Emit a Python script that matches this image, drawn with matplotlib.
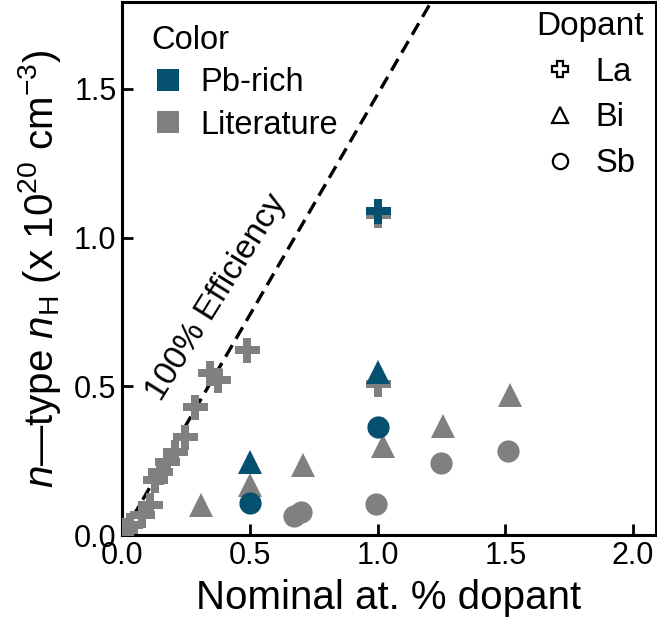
import matplotlib
matplotlib.use("Agg")
import numpy as np
from matplotlib import pyplot as plt
from matplotlib.lines import Line2D

plt.rcParams['font.family'] = ['Liberation Sans', 'DejaVu Sans']
plt.rcParams['mathtext.fontset'] = 'custom'
plt.rcParams['mathtext.rm'] = 'Liberation Sans'
plt.rcParams['mathtext.it'] = 'Liberation Sans:italic'

# colours
pb_rich_color = '#05506e'
lit_color = '#808080'

# literature data (nominal at.% dopant, n_H in 1e20 cm^-3)
lit_la_x = [0.012, 0.031, 0.077, 0.110, 0.129, 0.149, 0.175, 0.207, 0.247, 0.285,
            0.344, 0.376, 0.488, 1.0, 1.0]
lit_la_y = [0.018, 0.035, 0.069, 0.102, 0.186, 0.214, 0.248, 0.281, 0.332, 0.432,
            0.545, 0.522, 0.622, 1.075, 0.51]
lit_bi_x = [0.308, 0.5, 0.71, 1.02, 1.257, 1.52]
lit_bi_y = [0.102, 0.17, 0.236, 0.30, 0.368, 0.47]
lit_sb_x = [0.675, 0.70, 0.995, 1.25, 1.51]
lit_sb_y = [0.065, 0.08, 0.106, 0.243, 0.284]

# Pb-rich samples
pb_la_x = [1.0]
pb_la_y = [1.09]
pb_bi_x = [0.5, 1.0]
pb_bi_y = [0.248, 0.55]
pb_sb_x = [0.5, 1.0]
pb_sb_y = [0.108, 0.364]

# 100% doping efficiency: 1 at.% -> 1.48e20 cm^-3
efficiency_slope = 1.48

fig = plt.figure(figsize=(6.57, 6.26), dpi=100)
ax = fig.add_axes([0.1857, 0.1446, 0.8128, 0.852])

line_x = np.array([0.0, 2.1])
ax.plot(line_x, efficiency_slope * line_x, 'k--', lw=2.4, dashes=(4, 2.2), zorder=2)

ax.plot(lit_la_x, lit_la_y, 'P', color=lit_color, ms=18, mew=0, ls='none', zorder=3)
ax.plot(lit_bi_x, lit_bi_y, '^', color=lit_color, ms=17, mew=0, ls='none', zorder=3)
ax.plot(lit_sb_x, lit_sb_y, 'o', color=lit_color, ms=16, mew=0, ls='none', zorder=3)
ax.plot(pb_la_x, pb_la_y, 'P', color=pb_rich_color, ms=18, mew=0, ls='none', zorder=4)
ax.plot(pb_bi_x, pb_bi_y, '^', color=pb_rich_color, ms=17, mew=0, ls='none', zorder=4)
ax.plot(pb_sb_x, pb_sb_y, 'o', color=pb_rich_color, ms=16, mew=0, ls='none', zorder=4)

ax.text(0.372, 0.80, '100% Efficiency', rotation=58, fontsize=24,
        ha='center', va='center')

ax.set_xlim(0, 2.09)
ax.set_ylim(0, 1.79)
ax.set_xticks([0.0, 0.5, 1.0, 1.5, 2.0])
ax.set_yticks([0.0, 0.5, 1.0, 1.5])
ax.xaxis.set_major_formatter(matplotlib.ticker.FormatStrFormatter('%.1f'))
ax.yaxis.set_major_formatter(matplotlib.ticker.FormatStrFormatter('%.1f'))
ax.tick_params(direction='in', length=8, width=2, labelsize=22, pad=4)
for sp in ax.spines.values():
    sp.set_linewidth(2.2)

ax.set_xlabel('Nominal at. % dopant', fontsize=29, labelpad=6)
ax.set_ylabel(r'$n$—type $n_\mathrm{H}$ (x 10$^{20}$ cm$^{-3}$)', fontsize=29, labelpad=8)

# colour legend
color_handles = [
    Line2D([], [], marker='s', ls='none', color=pb_rich_color, ms=16, mew=0),
    Line2D([], [], marker='s', ls='none', color=lit_color, ms=16, mew=0),
]
leg1 = ax.legend(color_handles, ['Pb-rich', 'Literature'], title='Color',
                 loc='upper left', bbox_to_anchor=(0.012, 1.0), frameon=False,
                 fontsize=23.5, title_fontsize=23.5, handlelength=1.0,
                 handletextpad=0.5, labelspacing=0.35, borderaxespad=0.3,
                 alignment='left')
ax.add_artist(leg1)

# dopant legend
dop_handles = [
    Line2D([], [], marker='P', ls='none', mfc='white', mec='black', ms=12, mew=1.6),
    Line2D([], [], marker='^', ls='none', mfc='white', mec='black', ms=12, mew=1.6),
    Line2D([], [], marker='o', ls='none', mfc='white', mec='black', ms=11, mew=1.6),
]
ax.legend(dop_handles, ['La', 'Bi', 'Sb'], title='Dopant',
          loc='upper right', bbox_to_anchor=(1.013, 1.02), frameon=False,
          fontsize=23.5, title_fontsize=24, handlelength=1.0,
          handletextpad=0.6, labelspacing=0.45, borderaxespad=0.2,
          alignment='center')

fig.savefig('out.png', dpi=100)
